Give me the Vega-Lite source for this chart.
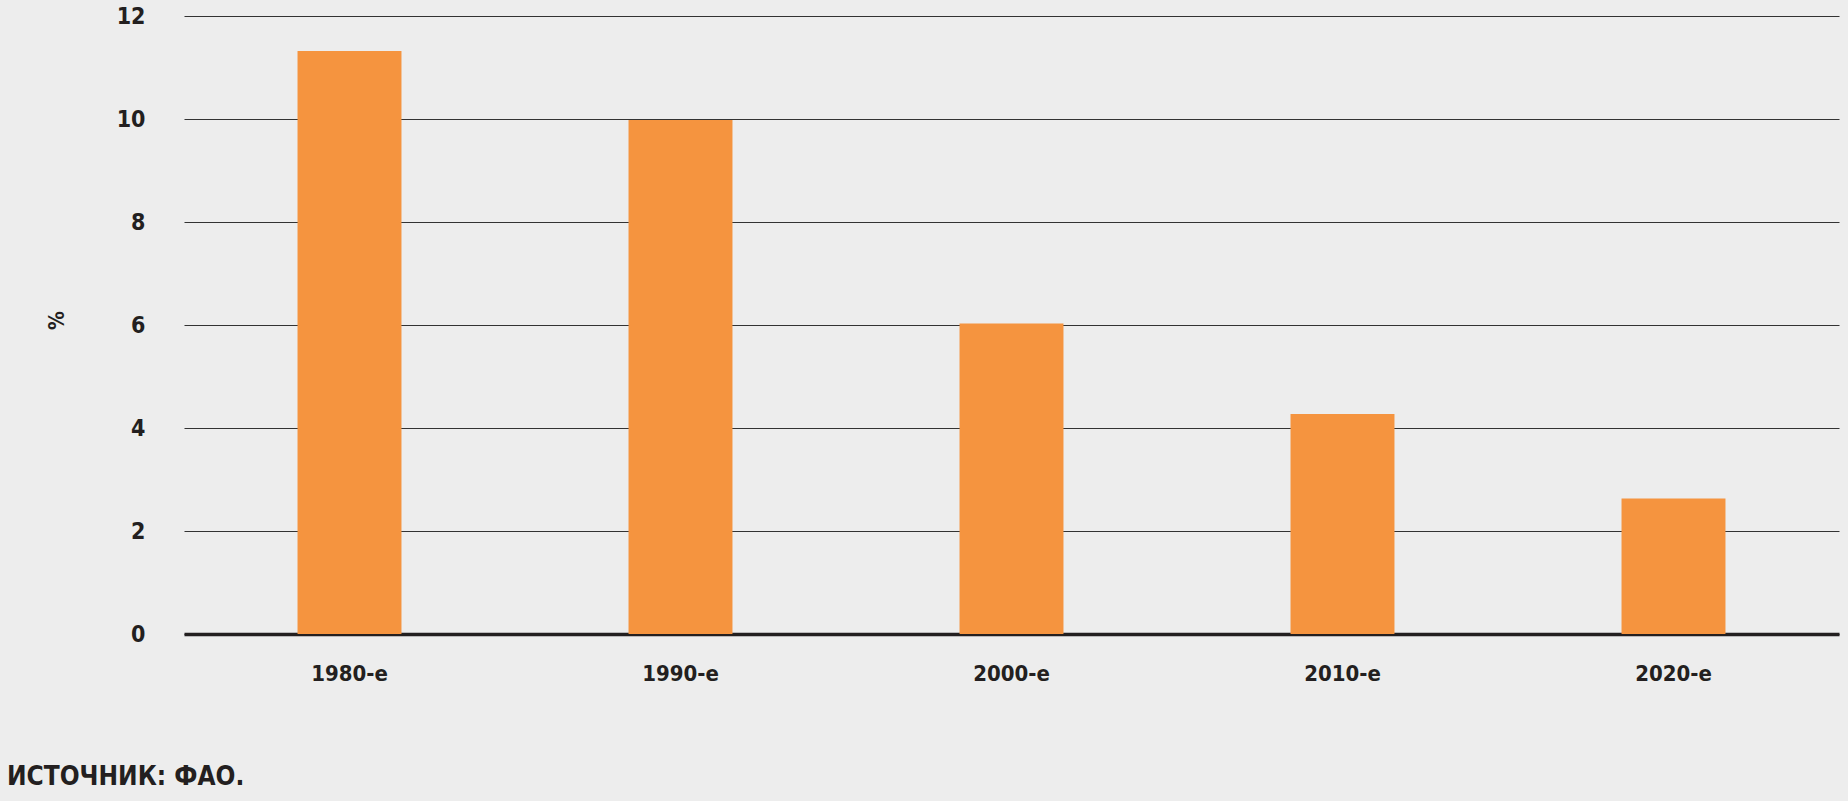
{
  "$schema": "https://vega.github.io/schema/vega-lite/v6.json",
  "width": 1655,
  "height": 618,
  "autosize": {"type": "none"},
  "padding": {"left": 184, "top": 16, "right": 9, "bottom": 167},
  "background": "#ededed",
  "config": {
    "view": {"stroke": null},
    "font": "DejaVu Sans Condensed, Roboto, sans-serif"
  },
  "title": {
    "text": "ИСТОЧНИК: ФАО.",
    "orient": "bottom",
    "anchor": "start",
    "frame": "group",
    "dx": -177,
    "offset": 80,
    "font": "DejaVu Sans Condensed, Roboto, sans-serif",
    "fontSize": 26,
    "fontWeight": "bold",
    "color": "#231f20"
  },
  "data": {
    "values": [
      {"decade": "1980-e", "value": 11.32},
      {"decade": "1990-e", "value": 9.98},
      {"decade": "2000-e", "value": 6.03},
      {"decade": "2010-e", "value": 4.27},
      {"decade": "2020-e", "value": 2.63}
    ]
  },
  "mark": {"type": "bar", "color": "#f5943f"},
  "encoding": {
    "x": {
      "field": "decade",
      "type": "nominal",
      "sort": null,
      "scale": {"paddingInner": 0.686, "paddingOuter": 0.343},
      "axis": {
        "title": null,
        "labelAngle": 0,
        "labelFont": "DejaVu Sans Condensed, Roboto, sans-serif",
        "labelFontSize": 22,
        "labelFontWeight": 600,
        "labelColor": "#231f20",
        "labelPadding": 29,
        "labelBaseline": "top",
        "ticks": false,
        "domain": true,
        "domainColor": "#231f20",
        "domainWidth": 3.5
      }
    },
    "y": {
      "field": "value",
      "type": "quantitative",
      "scale": {"domain": [0, 12], "nice": false},
      "axis": {
        "title": "%",
        "titleFont": "DejaVu Sans Condensed, Roboto, sans-serif",
        "titleFontSize": 21,
        "titleFontWeight": "bold",
        "titleColor": "#231f20",
        "titleX": -127,
        "titleY": 304,
        "titleBaseline": "middle",
        "values": [0, 2, 4, 6, 8, 10, 12],
        "labelFont": "DejaVu Sans Condensed, Roboto, sans-serif",
        "labelFontSize": 23,
        "labelFontWeight": "bold",
        "labelColor": "#231f20",
        "labelPadding": 39,
        "ticks": false,
        "domain": false,
        "grid": true,
        "gridColor": "#333333",
        "gridWidth": 1.2
      }
    }
  }
}
